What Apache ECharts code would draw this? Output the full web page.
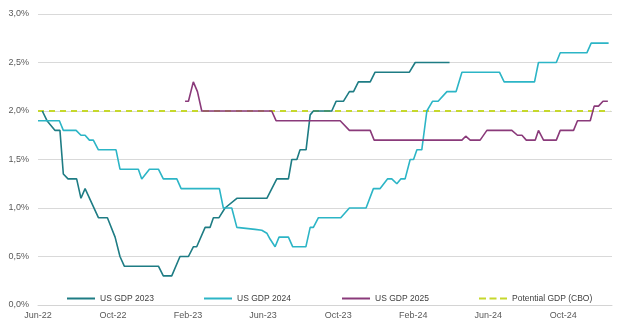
<!DOCTYPE html>
<html>
<head>
<meta charset="utf-8">
<script src="https://cdn.jsdelivr.net/npm/echarts@6/dist/echarts.min.js"></script>
<style>
html,body{margin:0;padding:0;background:#fff;}
#chart{width:642px;height:328px;}
</style>
</head>
<body>
<div id="chart"></div>
<script>
// x positions are months since Jun-22
const tickLabels = ['Jun-22','Oct-22','Feb-23','Jun-23','Oct-23','Feb-24','Jun-24','Oct-24'];
const seriesNames = ['US GDP 2023','US GDP 2024','US GDP 2025','Potential GDP (CBO)'];

const months2023 = [0.23,0.48,0.91,1.17,1.35,1.6,2.06,2.29,2.51,3.22,3.70,4.11,4.37,4.60,6.42,6.68,7.13,7.57,8.02,8.28,8.46,8.91,9.17,9.35,9.65,9.97,10.6,12.2,12.73,13.35,13.53,13.8,13.97,14.29,14.51,14.68,15.66,15.89,16.28,16.6,16.82,17.08,17.71,17.97,19.8,20.11,21.94];
const gdp2023 = [2.0,1.9,1.8,1.8,1.35,1.3,1.3,1.1,1.2,0.9,0.9,0.7,0.5,0.4,0.4,0.3,0.3,0.5,0.5,0.6,0.6,0.8,0.8,0.9,0.9,1.0,1.1,1.1,1.3,1.3,1.5,1.5,1.6,1.6,1.96,2.0,2.0,2.1,2.1,2.2,2.2,2.3,2.3,2.4,2.4,2.5,2.5];

const months2024 = [0,1.14,1.35,2.03,2.29,2.51,2.74,2.95,3.22,4.16,4.37,5.35,5.53,5.94,6.42,6.68,7.4,7.63,9.67,9.88,10.33,10.6,11.57,11.93,12.2,12.37,12.64,12.85,13.35,13.58,14.28,14.51,14.68,14.95,16.14,16.6,17.49,17.88,18.24,18.63,18.86,19.13,19.34,19.57,19.84,20.02,20.2,20.46,20.73,21.03,21.33,21.8,22.29,22.6,24.6,24.85,26.47,26.68,27.63,27.84,29.26,29.49,30.42];
const gdp2024 = [1.9,1.9,1.8,1.8,1.75,1.75,1.7,1.7,1.6,1.6,1.4,1.4,1.3,1.4,1.4,1.3,1.3,1.2,1.2,1.0,1.0,0.8,0.78,0.77,0.74,0.68,0.6,0.7,0.7,0.6,0.6,0.8,0.8,0.9,0.9,1.0,1.0,1.2,1.2,1.3,1.3,1.25,1.3,1.3,1.5,1.5,1.6,1.6,2.0,2.1,2.1,2.2,2.2,2.4,2.4,2.3,2.3,2.5,2.5,2.6,2.6,2.7,2.7];

const months2025 = [7.84,8.02,8.28,8.5,8.73,12.46,12.69,16.11,16.6,17.71,17.92,22.6,22.8,23.04,23.57,23.93,25.26,25.56,25.8,26.03,26.51,26.68,26.95,27.63,27.84,28.55,28.76,29.44,29.65,29.88,30.12,30.38];
const gdp2025 = [2.1,2.1,2.3,2.2,2.0,2.0,1.9,1.9,1.8,1.8,1.7,1.7,1.74,1.7,1.7,1.8,1.8,1.75,1.75,1.7,1.7,1.8,1.7,1.7,1.8,1.8,1.9,1.9,2.05,2.05,2.1,2.1];

const monthsCBO = [0,30.5];
const gdpCBO = [2.0,2.0];

const colors = ['#1e7c84','#2cb5c6','#8a3a7a','#c6d82c'];

function pairs(xs, ys){ return xs.map((x,i)=>[x, ys[i]]); }

const chart = echarts.init(document.getElementById('chart'), null, {renderer:'canvas'});
const fontFamily = 'Liberation Sans, Arial, sans-serif';
const legendLefts = [67, 204, 342, 479];
const legendIcons = ['rect','rect','rect','path://M0,0h7v2h-7z M10.5,0h7v2h-7z M21,0h7v2h-7z'];

chart.setOption({
  animation:false,
  textStyle:{fontFamily:fontFamily},
  grid:{left:38,right:30,top:14,bottom:23,containLabel:false},
  legend: seriesNames.map((n,i)=>({
    data:[{name:n, icon:legendIcons[i]}], left:legendLefts[i], top:294, padding:0,
    itemWidth:28, itemHeight:2, itemGap:0,
    textStyle:{fontSize:8.5, color:'#404040', fontFamily:fontFamily},
    selectedMode:false
  })),
  xAxis:{
    type:'value', min:0, max:30.6, interval:4,
    axisLine:{show:true, lineStyle:{color:'#d4d4d4', width:1}},
    axisTick:{show:false},
    splitLine:{show:false},
    axisLabel:{
      fontSize:9, color:'#595959', margin:6, showMaxLabel:false,
      formatter:function(v){ const i = Math.round(v/4); return Math.abs(v - i*4) < 1e-6 ? (tickLabels[i]||'') : ''; }
    }
  },
  yAxis:{
    type:'value', min:0, max:3, interval:0.5,
    axisLine:{show:false}, axisTick:{show:false},
    splitLine:{lineStyle:{color:'#d9d9d9', width:1}},
    axisLabel:{fontSize:9, color:'#595959', margin:9,
      formatter:function(v){ return v.toFixed(1).replace('.',',') + '%'; }}
  },
  series:[
    {name:seriesNames[3], type:'line', data:pairs(monthsCBO,gdpCBO), symbol:'none', z:1,
      lineStyle:{color:colors[3], width:1.8, type:[6,5]}, itemStyle:{color:colors[3]}},
    {name:seriesNames[0], type:'line', data:pairs(months2023,gdp2023), symbol:'none', z:3,
      lineStyle:{color:colors[0], width:1.6}, itemStyle:{color:colors[0]}},
    {name:seriesNames[1], type:'line', data:pairs(months2024,gdp2024), symbol:'none', z:3,
      lineStyle:{color:colors[1], width:1.6}, itemStyle:{color:colors[1]}},
    {name:seriesNames[2], type:'line', data:pairs(months2025,gdp2025), symbol:'none', z:3,
      lineStyle:{color:colors[2], width:1.6}, itemStyle:{color:colors[2]}}
  ]
});
</script>
</body>
</html>
